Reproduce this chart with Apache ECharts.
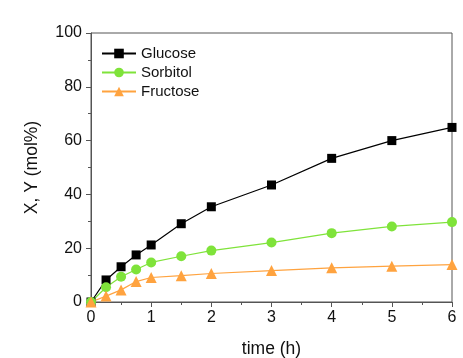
<!DOCTYPE html>
<html><head><meta charset="utf-8">
<script src="https://cdn.jsdelivr.net/npm/echarts@6/dist/echarts.min.js"></script>
<style>html,body{margin:0;padding:0;background:#fff}#c{width:463px;height:358px}</style>
</head><body><div id="c"></div>
<script>
const times = [0, 0.25, 0.5, 0.75, 1, 1.5, 2, 3, 4, 5, 6];
const glucose = [0, 8.2, 13.1, 17.5, 21.2, 29.1, 35.4, 43.5, 53.4, 60.0, 64.9];
const sorbitol = [0, 5.5, 9.4, 12.1, 14.7, 17.0, 19.1, 22.1, 25.6, 28.1, 29.7];
const fructose = [0, 2.2, 4.5, 7.6, 9.1, 9.8, 10.6, 11.7, 12.7, 13.3, 13.9];
const seriesNames = ['Glucose', 'Sorbitol', 'Fructose'];

const pair = arr => times.map((t, i) => [t, arr[i]]);
const font = 'Liberation Sans, Arial, sans-serif';
const axisCol = '#555';
const txt = '#111';
const chart = echarts.init(document.getElementById('c'));
chart.setOption({
  animation: false,
  backgroundColor: '#fff',
  grid: { left: 91, top: 33, width: 361, height: 269, show: true, borderColor: axisCol, borderWidth: 1,
    backgroundColor: 'transparent', containLabel: false, outerBoundsMode: 'none' },
  legend: {
    orient: 'vertical', left: 101, top: 46, padding: 0, itemWidth: 34, itemHeight: 12, itemGap: 4,
    textStyle: { fontFamily: font, fontSize: 15, lineHeight: 15, color: txt },
    data: seriesNames
  },
  xAxis: {
    type: 'value', min: 0, max: 6, interval: 1,
    name: 'time (h)', nameLocation: 'middle', nameGap: 38,
    nameTextStyle: { fontFamily: font, fontSize: 17.5, color: txt },
    axisLine: { lineStyle: { color: axisCol, width: 1 } },
    axisTick: { inside: false, length: 5, lineStyle: { color: axisCol } },
    minorTick: { show: true, splitNumber: 2, length: 3, lineStyle: { color: axisCol } },
    axisLabel: { fontFamily: font, fontSize: 16, color: txt, margin: 8 },
    splitLine: { show: false }
  },
  yAxis: {
    type: 'value', min: 0, max: 100, interval: 20,
    name: 'X, Y (mol%)', nameLocation: 'middle', nameGap: 50,
    nameTextStyle: { fontFamily: font, fontSize: 17.5, color: txt },
    axisLine: { show: true, lineStyle: { color: axisCol, width: 1 } },
    axisTick: { show: true, inside: false, length: 5, lineStyle: { color: axisCol } },
    minorTick: { show: true, splitNumber: 2, length: 3, lineStyle: { color: axisCol } },
    axisLabel: { fontFamily: font, fontSize: 16, color: txt, margin: 9 },
    splitLine: { show: false }
  },
  series: [
    { name: seriesNames[0], type: 'line', data: pair(glucose), symbol: 'rect', symbolSize: 9,
      itemStyle: { color: '#000' }, lineStyle: { color: '#000', width: 1.2 } },
    { name: seriesNames[1], type: 'line', data: pair(sorbitol), symbol: 'circle', symbolSize: 10,
      itemStyle: { color: '#7fe33a' }, lineStyle: { color: '#7fe33a', width: 1.2 } },
    { name: seriesNames[2], type: 'line', data: pair(fructose), symbol: 'triangle', symbolSize: 11,
      itemStyle: { color: '#ffa33f' }, lineStyle: { color: '#ffa33f', width: 1.2 } }
  ]
});
</script></body></html>
